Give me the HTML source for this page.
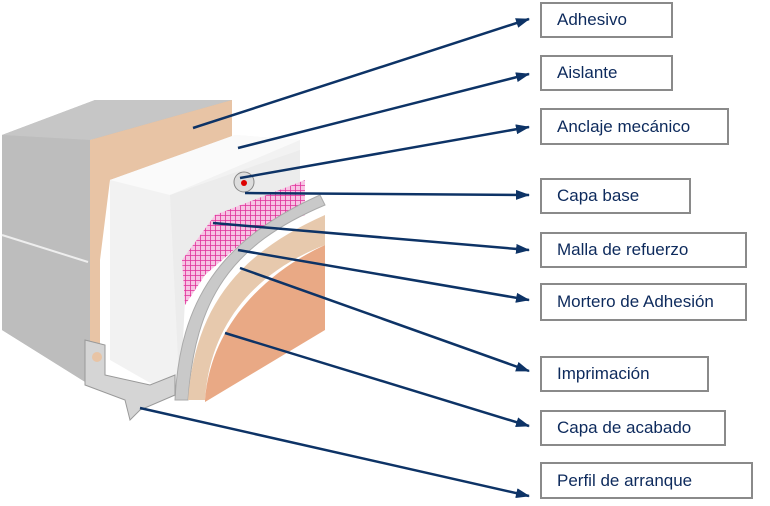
<!DOCTYPE html>
<html><head><meta charset="utf-8"><style>
body{margin:0;background:#fff;width:770px;height:506px;overflow:hidden;position:relative;font-family:"Liberation Sans",sans-serif}
.b{position:absolute;left:540px;border:2px solid #8a8a8a;background:#fff;color:#0d2a5c;font-size:17px;box-sizing:border-box;padding-left:15px;display:flex;align-items:center}
svg{position:absolute;left:0;top:0}
</style></head><body>
<svg width="770" height="506" viewBox="0 0 770 506">
<defs>
<pattern id="mesh" width="5" height="5" patternUnits="userSpaceOnUse"><rect width="5" height="5" fill="#f7c3e3"/><path d="M0 0H5M0 0V5" stroke="#e0309a" stroke-width="1.6"/></pattern>
<marker id="ar" markerWidth="14" markerHeight="10" refX="13" refY="5" orient="auto" markerUnits="userSpaceOnUse"><path d="M0 0L14 5L0 10z" fill="#0d3366"/></marker>
</defs>
<polygon points="2,135 95,100 232,100 232,110 90,140 90,385 2,330" fill="#b8b8b8"/>
<polygon points="2,135 90,140 90,385 2,330" fill="#bdbdbd"/>
<polygon points="2,135 95,100 232,100 90,140" fill="#c6c6c6"/>
<line x1="2" y1="235" x2="88" y2="262" stroke="#eee" stroke-width="2"/>
<polygon points="90,140 232,100 232,140 175,160 110,180 100,260 100,370 90,385" fill="#e8c4a5"/>
<polygon points="110,180 235,135 300,140 300,170 180,210 180,400 110,360" fill="#f2f2f2"/>
<polygon points="110,180 235,135 300,140 170,195" fill="#fafafa"/>
<polygon points="170,195 300,150 300,200 220,240 185,300 180,400" fill="#ececec"/>
<polygon points="182,260 215,215 305,180 305,215 245,240 205,275 185,305" fill="url(#mesh)"/>
<path d="M175,400 C180,300 220,240 320,195 L325,205 C230,245 195,300 188,400z" fill="#c9c9c9" stroke="#aaa"/>
<path d="M188,400 C195,310 235,255 325,215 L325,245 C260,270 210,320 205,400z" fill="#e7c9ad"/>
<path d="M205,400 C210,330 260,275 325,245 L325,330 L205,402z" fill="#e9a985"/>
<circle cx="244" cy="182" r="10" fill="#ddd" stroke="#888"/><circle cx="244" cy="183" r="3" fill="#d00"/>
<polygon points="85,340 105,345 105,375 150,385 175,375 175,395 140,410 130,420 125,400 85,385" fill="#d5d5d5" stroke="#999"/>
<circle cx="97" cy="357" r="5" fill="#e8c4a5"/>
<g stroke="#0d3366" stroke-width="2.5" fill="none" marker-end="url(#ar)">
<line x1="193" y1="128" x2="529" y2="19"/>
<line x1="238" y1="148" x2="529" y2="74"/>
<line x1="240" y1="178" x2="529" y2="127"/>
<line x1="245" y1="193" x2="529" y2="195"/>
<line x1="213" y1="223" x2="529" y2="250"/>
<line x1="238" y1="250" x2="529" y2="300"/>
<line x1="240" y1="268" x2="529" y2="371"/>
<line x1="225" y1="333" x2="529" y2="426"/>
<line x1="140" y1="408" x2="529" y2="496"/>
</g>
</svg>
<div class="b" style="top:2px;width:133px;height:36px">Adhesivo</div>
<div class="b" style="top:55px;width:133px;height:36px">Aislante</div>
<div class="b" style="top:108px;width:189px;height:37px">Anclaje mecánico</div>
<div class="b" style="top:178px;width:151px;height:36px">Capa base</div>
<div class="b" style="top:232px;width:207px;height:36px">Malla de refuerzo</div>
<div class="b" style="top:283px;width:207px;height:38px">Mortero de Adhesión</div>
<div class="b" style="top:356px;width:169px;height:36px">Imprimación</div>
<div class="b" style="top:410px;width:186px;height:36px">Capa de acabado</div>
<div class="b" style="top:462px;width:213px;height:37px">Perfil de arranque</div>
</body></html>
